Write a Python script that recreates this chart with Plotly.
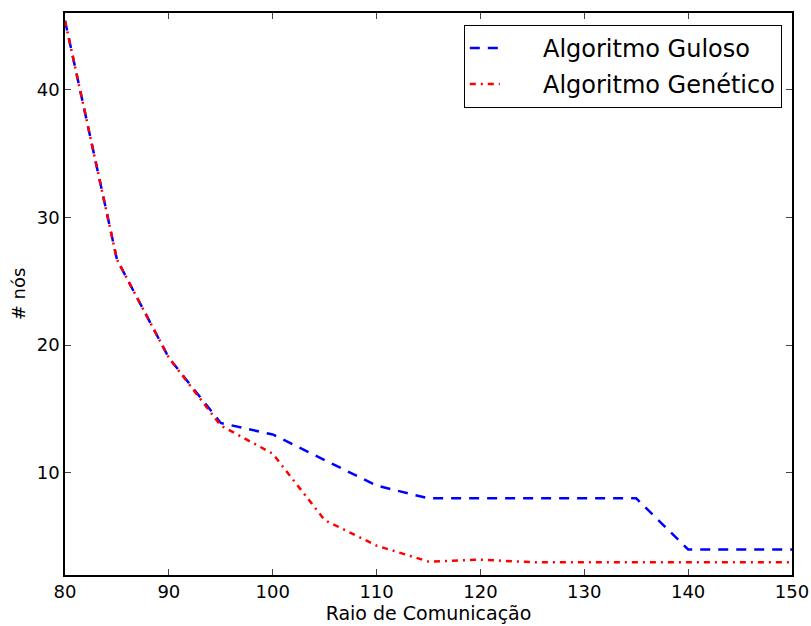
import plotly.graph_objects as go

raio = [80, 85, 90, 95, 100, 105, 110, 115, 120, 125, 130, 135, 140, 145, 150]
guloso = [45.4, 26.7, 19.0, 13.9, 13.0, 11.0, 9.0, 8.0, 8.0, 8.0, 8.0, 8.0, 4.0, 4.0, 4.0]
genetico = [45.4, 26.7, 19.0, 13.7, 11.5, 6.3, 4.3, 3.05, 3.2, 3.0, 3.0, 3.0, 3.0, 3.0, 3.0]
x_ticks = [80, 90, 100, 110, 120, 130, 140, 150]
y_ticks = [10, 20, 30, 40]
pad = "\u00a0" * 5

fig = go.Figure()
fig.add_trace(go.Scatter(x=raio, y=guloso, mode="lines", name=pad + "Algoritmo Guloso",
                         legendgroup="a",
                         line=dict(color="#0000ff", width=2.5, dash="10px,8px")))
fig.add_trace(go.Scatter(x=raio, y=genetico, mode="lines", name=pad + "Algoritmo Genético",
                         legendgroup="b",
                         line=dict(color="#ff0000", width=2.5, dash="6px,5px,2px,5px")))

fig.update_layout(
    width=811, height=626,
    margin=dict(l=65, r=19, t=13, b=51, autoexpand=False),
    paper_bgcolor="white", plot_bgcolor="white",
    font=dict(family="DejaVu Sans", color="black", size=17),
    legend=dict(x=0.986, y=0.979, xanchor="right", yanchor="top",
                bordercolor="black", borderwidth=1, bgcolor="white",
                font=dict(size=24, family="DejaVu Sans"),
                tracegroupgap=2),
    showlegend=True,
)
fig.update_xaxes(range=[80, 150], tickvals=x_ticks, ticks="inside", ticklen=6,
                 showline=True, linecolor="black", linewidth=1.5, mirror="ticks",
                 showgrid=False, zeroline=False, automargin=False,
                 tickfont=dict(size=18),
                 title=dict(text="Raio de Comunicação", font=dict(size=19), standoff=1))
fig.update_yaxes(range=[2, 46], tickvals=y_ticks, ticks="inside", ticklen=6,
                 showline=True, linecolor="black", linewidth=1.5, mirror="ticks",
                 showgrid=False, zeroline=False, automargin=False,
                 tickfont=dict(size=18),
                 title=dict(text="# nós", font=dict(size=18), standoff=6))

fig.write_html("out.html", config={"displayModeBar": False},
               post_script="document.body.style.margin='0';")
